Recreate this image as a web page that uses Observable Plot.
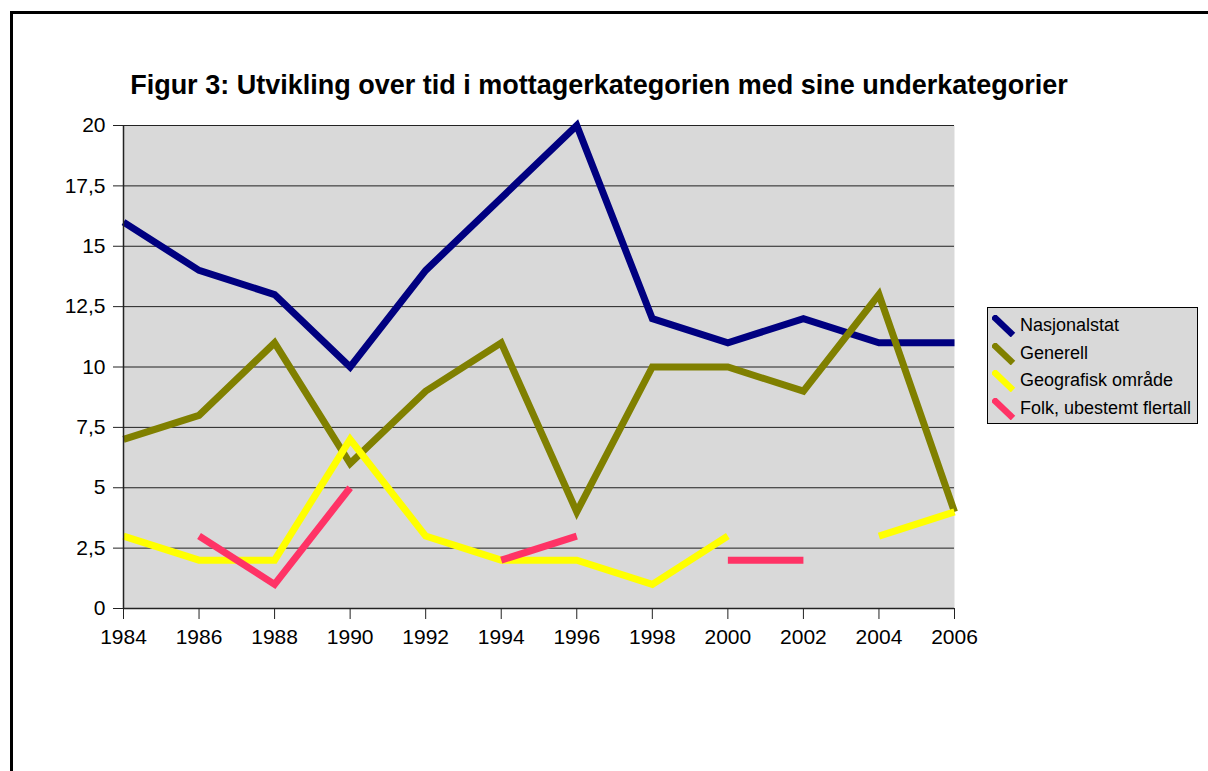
<!DOCTYPE html>
<html>
<head>
<meta charset="utf-8">
<script src="https://cdn.jsdelivr.net/npm/d3@7"></script>
<script src="https://cdn.jsdelivr.net/npm/@observablehq/plot@0.6"></script>
<style>
  html, body { margin: 0; padding: 0; background: #fff; }
  #wrap { position: relative; width: 1208px; height: 771px; overflow: hidden; font-family: "Liberation Sans", Arial, sans-serif; }
  #frameborder { position: absolute; left: 10px; top: 11px; width: 1300px; height: 900px; border-left: 3px solid #000; border-top: 3px solid #000; }
  #title { position: absolute; left: 0; width: 1198px; top: 69px; text-align: center; font-weight: bold; font-size: 27px; line-height: 32px; color: #000; }
  #chart { position: absolute; left: 0; top: 0; }
  #legend { position: absolute; left: 987px; top: 307px; width: 209px; height: 115px; background: #d9d9d9; border: 1px solid #000; }
  .lrow { position: absolute; left: 0; height: 24px; font-size: 18px; line-height: 24px; color: #000; }
  .lrow svg { position: absolute; left: 4px; top: 2px; }
  .lrow span { position: absolute; left: 32px; white-space: nowrap; }
</style>
</head>
<body>
<div id="wrap">
  <div id="frameborder"></div>
  <div id="chart"></div>
  <div id="title"></div>
  <div id="legend"></div>
</div>
<script>
// ---- data ----
const titleText = "Figur 3: Utvikling over tid i mottagerkategorien med sine underkategorier";
const years = [1984, 1986, 1988, 1990, 1992, 1994, 1996, 1998, 2000, 2002, 2004, 2006];
const nasjonalstat = [16, 14, 13, 10, 14, 17, 20, 12, 11, 12, 11, 11];
const generell     = [7, 8, 11, 6, 9, 11, 4, 10, 10, 9, 13, 4];
const geografisk   = [3, 2, 2, 7, 3, 2, 2, 1, 3, null, 3, 4];
const folk         = [null, 3, 1, 5, null, 2, 3, null, 2, 2, null, null];
const seriesNames  = ["Nasjonalstat", "Generell", "Geografisk område", "Folk, ubestemt flertall"];
const seriesColors = ["#000080", "#808000", "#ffff00", "#ff3366"];
const yTicks = [0, 2.5, 5, 7.5, 10, 12.5, 15, 17.5, 20];

const seriesValues = [nasjonalstat, generell, geografisk, folk];
const rows = [];
seriesNames.forEach((name, i) => {
  years.forEach((yr, j) => {
    const v = seriesValues[i][j];
    rows.push({ year: yr, value: v == null ? NaN : v, series: name });
  });
});

const W = 1208, H = 771;
const fmt = d => String(d).replace(".", ",");

const chart = Plot.plot({
  width: W,
  height: H,
  marginLeft: 123,
  marginRight: 254,
  marginTop: 125,
  marginBottom: 163,
  style: { fontFamily: "'Liberation Sans', Arial, sans-serif", fontSize: "21px", background: "transparent", color: "#000", overflow: "visible" },
  x: { domain: [years[0], years[years.length - 1]], label: null },
  y: { domain: [0, 20], label: null },
  color: { domain: seriesNames, range: seriesColors },
  marks: [
    Plot.frame({ fill: "#d9d9d9", stroke: "none" }),
    Plot.ruleY(yTicks, { stroke: "#000", strokeWidth: 1, strokeOpacity: 0.85 }),
    Plot.line(rows, {
      x: "year", y: "value", z: "series", stroke: "series",
      strokeWidth: 7, strokeLinejoin: "miter", strokeLinecap: "butt", strokeMiterlimit: 10
    }),
    Plot.ruleX([years[0]], { stroke: "#222", strokeWidth: 1.5 }),
    Plot.ruleY([0], { stroke: "#222", strokeWidth: 1.5 }),
    Plot.axisY({ ticks: yTicks, tickSize: 10, tickPadding: 8, tickFormat: fmt, fontSize: 21, label: null, stroke: "#222" }),
    Plot.axisX({ ticks: years, tickSize: 11, tickPadding: 10, tickFormat: d => String(d), fontSize: 21, label: null, stroke: "#222" })
  ]
});
document.getElementById("chart").appendChild(chart);

document.getElementById("title").textContent = titleText;

const legend = d3.select("#legend");
seriesNames.forEach((name, i) => {
  const row = legend.append("div").attr("class", "lrow").style("top", (5 + i * 27.7) + "px");
  const svg = row.append("svg").attr("width", 24).attr("height", 22);
  svg.append("line").attr("x1", 1).attr("y1", 1).attr("x2", 21).attr("y2", 20)
    .attr("stroke", seriesColors[i]).attr("stroke-width", 6.5).attr("stroke-linecap", "butt");
  row.append("span").text(name);
});
</script>
</body>
</html>
